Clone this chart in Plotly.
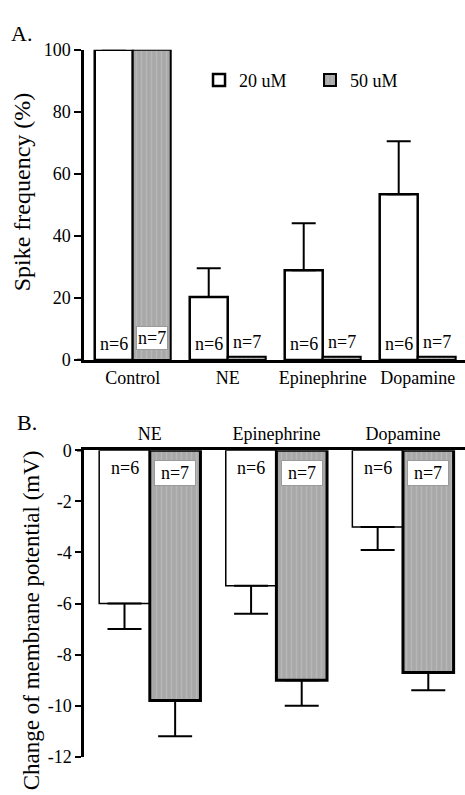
import plotly.graph_objects as go

# ---------------- data ----------------
cats_a = ["Control", "NE", "Epinephrine", "Dopamine"]
a_20 = [100, 20.3, 28.9, 53.4]
a_20_err = [0, 9.3, 15.2, 17.1]
a_50 = [100, 1.0, 1.0, 1.0]
a_50_err = [0, 0, 0, 0]
n_a_20 = ["n=6", "n=6", "n=6", "n=6"]
n_a_50 = ["n=7", "n=7", "n=7", "n=7"]

cats_b = ["NE", "Epinephrine", "Dopamine"]
b_20 = [-6.0, -5.3, -3.0]
b_20_err = [1.0, 1.1, 0.9]
b_50 = [-9.8, -9.0, -8.7]
b_50_err = [1.4, 1.0, 0.7]
n_b_20 = ["n=6", "n=6", "n=6"]
n_b_50 = ["n=7", "n=7", "n=7"]

ticks_a = [0, 20, 40, 60, 80, 100]
ticks_b = [0, -2, -4, -6, -8, -10, -12]

series_names = ["20 uM", "50 uM"]

# ---------------- style ----------------
FAM = "Liberation Serif, Times New Roman, serif"
W, H = 465, 795
GRAY = "#a8a8a8"
STRIPE = "#c6c6c6"


def F(size):
    return dict(family=FAM, size=size, color="black")


def gray_marker(lw):
    return dict(color=GRAY, line=dict(color="black", width=lw),
                pattern=dict(shape="|", fgcolor=STRIPE, bgcolor=GRAY,
                             size=5, solidity=0.3))


fig = go.Figure()

# Panel A
fig.add_trace(go.Bar(x=cats_a, y=a_20, name=series_names[0],
                     marker=dict(color="white", line=dict(color="black", width=2.5)),
                     error_y=dict(type="data", symmetric=False, array=a_20_err,
                                  arrayminus=[0] * len(a_20_err),
                                  color="black", thickness=2, width=12),
                     xaxis="x", yaxis="y"))
fig.add_trace(go.Bar(x=cats_a, y=a_50, name=series_names[1],
                     marker=gray_marker(2),
                     error_y=dict(type="data", symmetric=False, array=a_50_err,
                                  arrayminus=[0] * len(a_50_err),
                                  color="black", thickness=2, width=12, visible=False),
                     xaxis="x", yaxis="y"))

# Panel B
fig.add_trace(go.Bar(x=cats_b, y=b_20, name=series_names[0], showlegend=False,
                     marker=dict(color="white", line=dict(color="black", width=1.5)),
                     error_y=dict(type="data", symmetric=False, array=[0] * len(b_20_err),
                                  arrayminus=b_20_err,
                                  color="black", thickness=2, width=17),
                     xaxis="x2", yaxis="y2"))
fig.add_trace(go.Bar(x=cats_b, y=b_50, name=series_names[1], showlegend=False,
                     marker=gray_marker(3),
                     error_y=dict(type="data", symmetric=False, array=[0] * len(b_50_err),
                                  arrayminus=b_50_err,
                                  color="black", thickness=2, width=17),
                     xaxis="x2", yaxis="y2"))

x0 = 84 / W
fig.update_layout(
    width=W, height=H, margin=dict(l=0, r=0, t=0, b=0),
    paper_bgcolor="white", plot_bgcolor="white",
    barmode="group", bargap=0.2, bargroupgap=0,
    font=F(18),
    showlegend=True,
    legend=dict(orientation="h", x=0.428, y=1 - 72 / H, xanchor="left", yanchor="middle",
                font=F(18), bgcolor="rgba(0,0,0,0)",
                traceorder="normal", itemwidth=30,
                entrywidth=66, entrywidthmode="pixels"),
    xaxis=dict(domain=[x0, 1], anchor="y", range=[-0.513, 3.498], type="category",
               showline=True, linecolor="black", linewidth=2.5, ticks="",
               showgrid=False, zeroline=False, tickfont=F(18),
               ticklabelstandoff=0),
    yaxis=dict(domain=[1 - 359 / H, 1 - 40.7 / H], anchor="x", range=[0, 100],
               tickvals=ticks_a, ticktext=[str(v) for v in ticks_a],
               showline=True, linecolor="black", linewidth=2.5,
               ticks="outside", ticklen=7, tickwidth=2, tickcolor="black",
               showgrid=False, zeroline=False, tickfont=F(18)),
    xaxis2=dict(domain=[x0, 1], anchor="y2", range=[-0.52, 2.49], type="category",
                side="top", showline=True, linecolor="black", linewidth=2.5, ticks="",
                showgrid=False, zeroline=False, tickfont=F(18),
                ticklabelstandoff=0),
    yaxis2=dict(domain=[1 - 766 / H, 1 - 451.7 / H], anchor="x2", range=[-12, 0],
                tickvals=ticks_b, ticktext=[str(v) for v in ticks_b],
                showline=True, linecolor="black", linewidth=2.5,
                ticks="outside", ticklen=6, tickwidth=2, tickcolor="black",
                showgrid=False, zeroline=False, tickfont=F(18)),
)

ann = []
# panel letters and axis titles
ann.append(dict(text="A.", xref="paper", yref="paper", x=21 / W, y=1 - 24 / H,
                showarrow=False, font=F(22), xanchor="center", yanchor="middle"))
ann.append(dict(text="B.", xref="paper", yref="paper", x=27 / W, y=1 - 423 / H,
                showarrow=False, font=F(22), xanchor="center", yanchor="middle"))
ann.append(dict(text="Spike frequency (%)", xref="paper", yref="paper", x=22 / W,
                y=1 - 187 / H, textangle=-90, showarrow=False, font=F(24),
                xanchor="center", yanchor="middle"))
ann.append(dict(text="Change of membrane potential (mV)", xref="paper", yref="paper",
                x=31 / W, y=1 - 626 / H, textangle=-90, showarrow=False,
                font=F(23), xanchor="center", yanchor="middle"))

# n labels, panel A
for i, t in enumerate(n_a_20):
    ann.append(dict(text=t, xref="x", yref="y", x=i - 0.2, y=5, showarrow=False,
                    xanchor="center", yanchor="middle", font=F(18)))
for i, t in enumerate(n_a_50):
    boxed = a_50[i] > 10
    ann.append(dict(text=t, xref="x", yref="y", x=i + 0.2, y=7 if boxed else 5.8,
                    showarrow=False, xanchor="center", yanchor="middle",
                    font=F(18),
                    bgcolor="white" if boxed else "rgba(0,0,0,0)",
                    bordercolor="#9a9a9a" if boxed else "rgba(0,0,0,0)",
                    borderwidth=1 if boxed else 0, borderpad=1))
# n labels, panel B
for i, t in enumerate(n_b_20):
    ann.append(dict(text=t, xref="x2", yref="y2", x=i - 0.2, y=-0.7, showarrow=False,
                    xanchor="center", yanchor="middle", font=F(18)))
for i, t in enumerate(n_b_50):
    ann.append(dict(text=t, xref="x2", yref="y2", x=i + 0.2, y=-0.89, showarrow=False,
                    xanchor="center", yanchor="middle", font=F(18),
                    bgcolor="white", bordercolor="#9a9a9a", borderwidth=1,
                    borderpad=2, width=36))
fig.update_layout(annotations=ann)

# short extensions of the category axes to the left of the value axes
fig.add_shape(type="line", xref="paper", yref="y", x0=77 / W, x1=x0, y0=0, y1=0,
              line=dict(color="black", width=2.5))
fig.add_shape(type="line", xref="paper", yref="y2", x0=77 / W, x1=x0, y0=0, y1=0,
              line=dict(color="black", width=2.5))

fig.write_html("out.html")
